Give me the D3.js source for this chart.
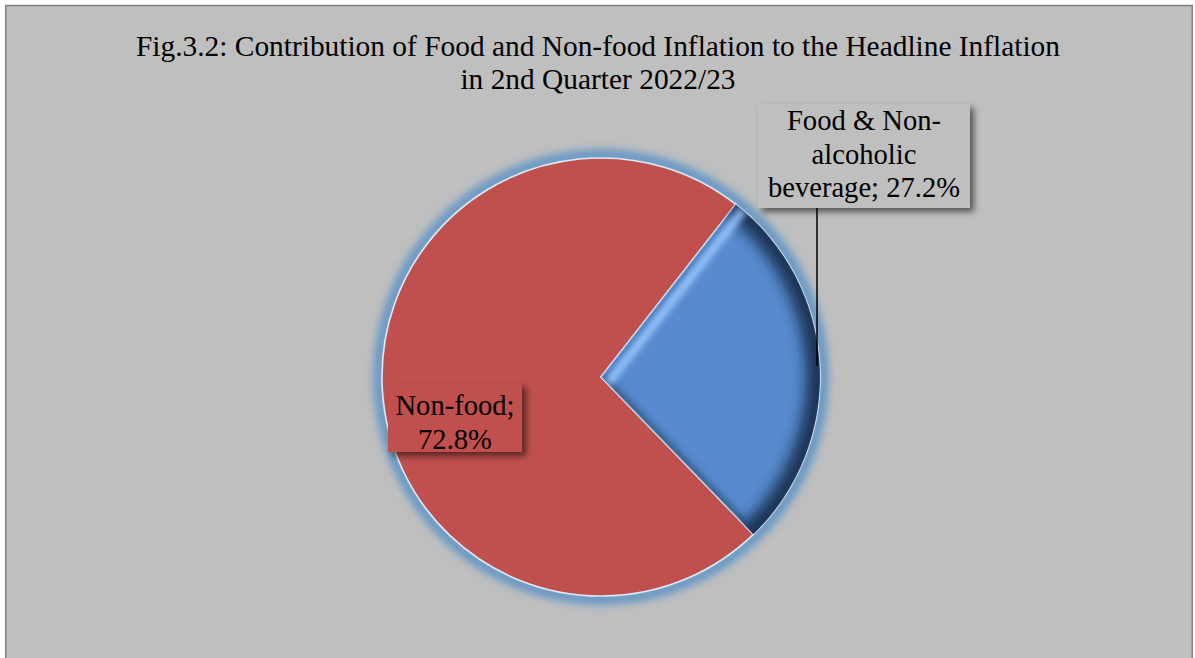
<!DOCTYPE html>
<html>
<head>
<meta charset="utf-8">
<script src="https://cdn.jsdelivr.net/npm/d3@7"></script>
<style>
  html, body { margin: 0; padding: 0; background: #ffffff; }
  svg { display: block; }
  text { font-family: "Liberation Serif", "Times New Roman", serif; fill: #000; }
</style>
</head>
<body>
<svg id="chart" width="1195" height="658"></svg>
<script>
// ---- data ----
const categories = ["Food & Non-alcoholic beverage", "Non-food"];
const shares = [27.2, 72.8];
// wrapped label text per category; "{v}" is replaced by the share value
const labelTemplates = ["Food & Non-|alcoholic|beverage; {v}%", "Non-food;|{v}%"];
const sliceColors = ["#578BCD", "#C0504D"];
const titleLines = [
  "Fig.3.2: Contribution of Food and Non-food Inflation to the Headline Inflation",
  "in 2nd Quarter 2022/23"
];

// ---- layout ----
const W = 1195, H = 658;
const cx = 601, cy = 377, R = 219;
const startDeg = 38;

const svg = d3.select("#chart");
const defs = svg.append("defs");

// filters
const glow = defs.append("filter").attr("id", "glow")
  .attr("x", "-20%").attr("y", "-20%").attr("width", "140%").attr("height", "140%");
glow.append("feGaussianBlur").attr("stdDeviation", 4);

const soft = defs.append("filter").attr("id", "soft")
  .attr("x", "-50%").attr("y", "-50%").attr("width", "200%").attr("height", "200%");
soft.append("feGaussianBlur").attr("stdDeviation", 7);

const softer = defs.append("filter").attr("id", "softer")
  .attr("x", "-50%").attr("y", "-50%").attr("width", "200%").attr("height", "200%");
softer.append("feGaussianBlur").attr("stdDeviation", 3);

const shadow = defs.append("filter").attr("id", "boxShadow")
  .attr("x", "-20%").attr("y", "-20%").attr("width", "140%").attr("height", "150%");
shadow.append("feDropShadow").attr("dx", 4).attr("dy", 4).attr("stdDeviation", 3)
  .attr("flood-color", "#000").attr("flood-opacity", 0.55);

// chart area background
svg.append("rect")
  .attr("x", 5.75).attr("y", 5.5).attr("width", 1186.5).attr("height", H + 20)
  .attr("fill", "#BFBFBF").attr("stroke", "#7F7F7F").attr("stroke-width", 1.5);

// title
const title = svg.append("text").attr("text-anchor", "middle").style("font-size", "29.4px");
titleLines.forEach((t, i) => {
  title.append("tspan").attr("x", 598).attr("y", 56 + i * 33).text(t);
});

// ---- pie ----
const pieData = categories.map((c, i) => ({ category: c, value: shares[i], color: sliceColors[i], template: labelTemplates[i] }));
const a0 = startDeg * Math.PI / 180;
const pie = d3.pie().sort(null).value(d => d.value).startAngle(a0).endAngle(a0 + 2 * Math.PI);
const arcs = pie(pieData);
const arc = d3.arc().innerRadius(0).outerRadius(R);

const g = svg.append("g").attr("transform", `translate(${cx},${cy})`);

// outer blue glow
g.append("circle").attr("r", R + 3)
  .attr("fill", "none").attr("stroke", "#5A93C6").attr("stroke-width", 10)
  .attr("filter", "url(#glow)");

// slices
arcs.forEach((a, i) => {
  const clipId = "clip" + i;
  defs.append("clipPath").attr("id", clipId)
    .append("path").attr("d", arc(a)).attr("transform", `translate(${cx},${cy})`);

  g.append("path").attr("d", arc(a)).attr("fill", a.data.color);

  if (i === 0) {
    // bevel shading inside the food slice
    const inner = svg.append("g").attr("clip-path", `url(#${clipId})`)
      .append("g").attr("transform", `translate(${cx},${cy})`);
    // dark rim along the outer arc
    inner.append("circle").attr("r", R).attr("fill", "none")
      .attr("stroke", "#122A48").attr("stroke-width", 28).attr("opacity", 0.9)
      .attr("filter", "url(#soft)");
    // dark rim along the closing radius
    const e = a.endAngle;
    inner.append("line")
      .attr("x1", 0).attr("y1", 0)
      .attr("x2", R * Math.sin(e)).attr("y2", -R * Math.cos(e))
      .attr("stroke", "#1E3C63").attr("stroke-width", 10).attr("opacity", 0.55)
      .attr("filter", "url(#softer)");
    // light highlight along the opening radius
    const s = a.startAngle;
    const nx = Math.cos(s) * 9, ny = Math.sin(s) * 9;
    inner.append("line")
      .attr("x1", nx).attr("y1", ny)
      .attr("x2", R * Math.sin(s) + nx).attr("y2", -R * Math.cos(s) + ny)
      .attr("stroke", "#9CC8FF").attr("stroke-width", 9).attr("opacity", 0.9)
      .attr("filter", "url(#softer)");
    inner.append("line")
      .attr("x1", 0).attr("y1", 0)
      .attr("x2", R * Math.sin(s)).attr("y2", -R * Math.cos(s))
      .attr("stroke", "#3E6FAE").attr("stroke-width", 5).attr("opacity", 0.8)
      .attr("filter", "url(#softer)");
  }
});

// light edge strokes around slices
arcs.forEach(a => {
  g.append("path").attr("d", arc(a)).attr("fill", "none")
    .attr("stroke", "#DCEAF8").attr("stroke-width", 1.6).attr("stroke-linejoin", "round");
});

// ---- data labels ----
const labelLayout = [
  { x: 758, y: 104, w: 212, h: 104, fill: "#BFBFBF", first: 130, leader: [817, 208, 817, 366] },
  { x: 388, y: 383, w: 134, h: 69, fill: "#C0504D", first: 415, leader: null }
];

arcs.forEach((a, i) => {
  const L = labelLayout[i];
  const lines = a.data.template.replace("{v}", a.data.value.toFixed(1)).split("|");
  if (L.leader) {
    svg.append("line")
      .attr("x1", L.leader[0]).attr("y1", L.leader[1])
      .attr("x2", L.leader[2]).attr("y2", L.leader[3])
      .attr("stroke", "#000").attr("stroke-width", 1.5);
  }
  svg.append("rect")
    .attr("x", L.x).attr("y", L.y).attr("width", L.w).attr("height", L.h)
    .attr("fill", L.fill).attr("filter", "url(#boxShadow)");
  const t = svg.append("text").attr("text-anchor", "middle").style("font-size", "28.6px");
  lines.forEach((ln, j) => {
    t.append("tspan").attr("x", L.x + L.w / 2).attr("y", L.first + j * 33.5).text(ln);
  });
});
</script>
</body>
</html>
